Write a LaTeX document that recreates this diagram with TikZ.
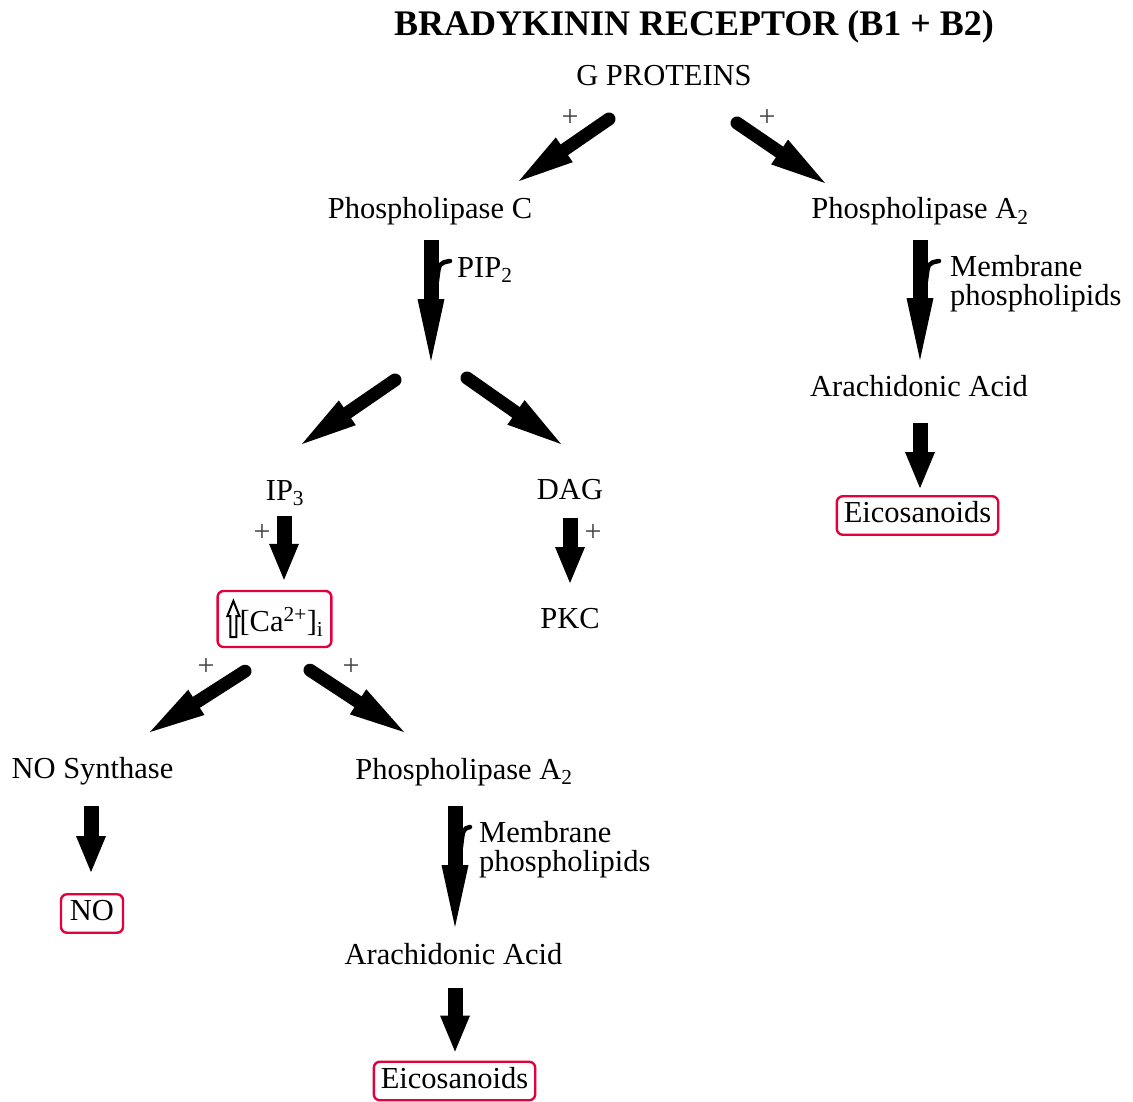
\documentclass[tikz,border=0pt]{standalone}
\usepackage{fontspec}
\setmainfont{Liberation Serif}
\usetikzlibrary{arrows.meta}
\definecolor{boxred}{RGB}{228,0,58}
\begin{document}
\begin{tikzpicture}[x=1pt,y=-1pt,
  txt/.style={font=\fontsize{30.5}{29}\selectfont, inner sep=0pt},
  ebox/.style={txt, draw=boxred, line width=2.4pt, rounded corners=6pt, text height=21pt, text depth=6.5pt, inner ysep=5.5pt, inner xsep=7pt},
  diagarr/.style={line width=13pt, line cap=round, -{Triangle[length=55pt,width=30pt,line width=0pt]}},
  longarr/.style={line width=15pt, -{Triangle[length=62pt,width=27pt,line width=0pt]}},
  shortarr/.style={line width=15pt, -{Triangle[length=36pt,width=30pt,line width=0pt]}},
  hookline/.style={line width=4.5pt, line cap=round},
  plus/.style={font=\fontsize{30}{30}\selectfont, text=black!75, inner sep=0pt},
  uparr/.style={draw=black, fill=white, line width=2pt, line join=miter}
]
\useasboundingbox (0,0) rectangle (1133,1102);

% texts
\node[anchor=base, inner sep=0pt, font=\fontsize{36}{40}\selectfont\bfseries] (title) at (694,36) {BRADYKININ RECEPTOR (B1 + B2)};
\node[txt, anchor=base] (gp) at (664,86) {G PROTEINS};
\node[txt, anchor=base] (plc) at (430,219) {Phospholipase C};
\node[txt, anchor=base] (pla2r) at (920,219) {Phospholipase A\textsubscript{2}};
\node[txt, anchor=base west] (pip2) at (457,277) {PIP\textsubscript{2}};
\node[txt, anchor=north west, align=left] (memr) at (950,255) {Membrane\\phospholipids};
\node[txt, anchor=base] (aar) at (919,396) {Arachidonic Acid};
\node[ebox] (eicr) at (917.5,515.5) {Eicosanoids};
\node[txt, anchor=base] (ip3) at (285,500) {IP\textsubscript{3}};
\node[txt, anchor=base] (dag) at (570,499) {DAG};
\node[txt, anchor=base] (pkc) at (570,628) {PKC};
\node[ebox, minimum width=109pt, minimum height=56pt, text height=26pt, text depth=2pt, inner xsep=8pt] (ca) at (274.5,619) {\hspace*{14pt}[Ca\textsuperscript{2+}]\textsubscript{i}};
\node[txt, anchor=base] (nos) at (92.5,778) {NO Synthase};
\node[txt, anchor=base] (pla2l) at (464,779) {Phospholipase A\textsubscript{2}};
\node[ebox, inner xsep=9pt] (no) at (92,913.5) {NO};
\node[txt, anchor=north west, align=left] (meml) at (479,821) {Membrane\\phospholipids};
\node[txt, anchor=base] (aal) at (453.5,964) {Arachidonic Acid};
\node[ebox] (eicl) at (454.5,1081) {Eicosanoids};

\coordinate (split) at (431,361);

% arrows
\draw[diagarr] ([shift={(-55,33)}]gp.base) -- ([shift={(89,-38)}]plc.base);
\draw[diagarr] ([shift={(73,37)}]gp.base) -- ([shift={(-95,-36)}]pla2r.base);
\draw[longarr] ([shift={(1,21)}]plc.base) -- (split);
\draw[hookline] ([shift={(7,62)}]plc.base) .. controls ([shift={(9,44)}]plc.base) .. ([shift={(20,42)}]plc.base);
\draw[diagarr] ([shift={(-36,19)}]split) -- ([shift={(17,-56)}]ip3.base);
\draw[diagarr] ([shift={(36,17)}]split) -- ([shift={(-9,-55)}]dag.base);
\draw[longarr] ([shift={(0,21)}]pla2r.base) -- ([shift={(1,-36)}]aar.base);
\draw[hookline] ([shift={(6,62)}]pla2r.base) .. controls ([shift={(8,44)}]pla2r.base) .. ([shift={(19,42)}]pla2r.base);
\draw[shortarr] ([shift={(1,27)}]aar.base) -- ([shift={(2.5,-7)}]eicr.north);
\draw[shortarr] ([shift={(-1,16)}]ip3.base) -- ([shift={(9.5,-10)}]ca.north);
\draw[shortarr] ([shift={(0,19)}]dag.base) -- ([shift={(0,-45)}]pkc.base);
\draw[diagarr] ([shift={(-29.5,23)}]ca.south) -- ([shift={(57.5,-46)}]nos.base);
\draw[diagarr] ([shift={(35.5,22)}]ca.south) -- ([shift={(-60,-47)}]pla2l.base);
\draw[shortarr] ([shift={(-1.5,28)}]nos.base) -- ([shift={(-1,-21)}]no.north);
\draw[longarr] ([shift={(-9,27)}]pla2l.base) -- ([shift={(1.5,-37)}]aal.base);
\draw[hookline] ([shift={(-3,68)}]pla2l.base) .. controls ([shift={(-1,50)}]pla2l.base) .. ([shift={(6,48)}]pla2l.base);
\draw[shortarr] ([shift={(1.5,24)}]aal.base) -- ([shift={(0.5,-9)}]eicl.north);

% up arrow inside Ca box
\draw[uparr] ([shift={(17,-18)}]ca.west) -- ([shift={(23,-3)}]ca.west) -- ([shift={(20,-3)}]ca.west) -- ([shift={(20,18)}]ca.west) -- ([shift={(14,18)}]ca.west) -- ([shift={(14,-3)}]ca.west) -- ([shift={(11,-3)}]ca.west) -- cycle;

% plus signs
\node[plus] (p1) at (570,118) {+};
\node[plus] (p2) at (767,118) {+};
\node[plus] (p3) at (262,533) {+};
\node[plus] (p4) at (593,533) {+};
\node[plus] (p5) at (206,667) {+};
\node[plus] (p6) at (351,667) {+};
\end{tikzpicture}
\end{document}
